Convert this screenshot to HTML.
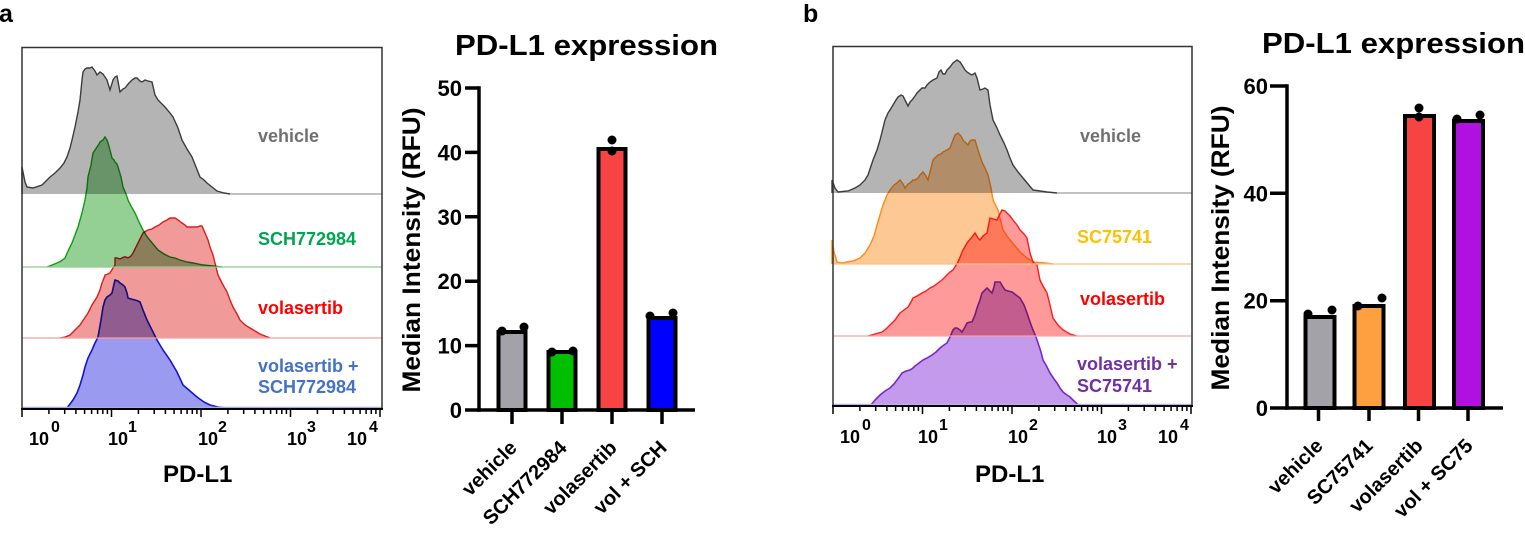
<!DOCTYPE html>
<html>
<head>
<meta charset="utf-8">
<style>
  html, body { margin: 0; padding: 0; background: #fff; }
  body { width: 1525px; height: 537px; overflow: hidden; }
  svg { display: block; font-family: "Liberation Sans", Arial, sans-serif; font-weight: bold; }
  .mb { mix-blend-mode: multiply; }
</style>
</head>
<body>
<svg width="1525" height="537" viewBox="0 0 1525 537" xmlns="http://www.w3.org/2000/svg">
  <rect x="0" y="0" width="1525" height="537" fill="#fff"/>

  <!-- Panel letters -->
  <text x="-1" y="22" font-size="25" fill="#000">a</text>
  <text x="803" y="22" font-size="25" fill="#000">b</text>

  <!-- ================= Panel a histogram ================= -->
  <g>
    <g style="isolation:isolate">
      <!-- gray vehicle -->
      <path class="mb" d="M22,194 L22,167 L25,182 L27,187 L33,188 L42,185 L50,177 L55,173 L60,168 L64,163 L67,157 L70,148 L72,140 L75,127 L78,112 L80,100 L82,80 L83,72 L85,69 L87,68 L90,68 L92,67 L95,71 L97,75 L100,72 L103,74 L107,80 L110,90 L113,80 L115,77 L117,76 L120,92 L123,89 L125,88 L129,83 L132,80 L135,78 L137,78 L140,81 L142,82 L145,80 L148,81 L152,82 L155,95 L158,100 L162,104 L165,107 L170,113 L173,117 L178,128 L182,140 L187,149 L192,157 L196,167 L200,177 L204,180 L207,183 L212,187 L217,191 L224,193 L230,194" fill="#b4b4b4" stroke="#3c3c3c" stroke-width="1.4"/>
      <!-- green SCH -->
      <path class="mb" d="M47,267 L52,265 L57,263 L61,261 L65,258 L68,251 L72,243 L75,235 L78,227 L82,213 L85,200 L87,188 L88,177 L91,165 L93,153 L95,150 L97,147 L99,144 L100,142 L103,140 L105,137 L107,140 L108,143 L110,150 L112,158 L114,160 L115,162 L117,164 L118,167 L121,177 L123,187 L126,194 L128,200 L131,206 L135,213 L139,222 L143,230 L146,235 L148,238 L153,244 L158,250 L164,254 L170,257 L175,258 L180,260 L187,262 L193,263 L203,265 L213,266 L222,267" fill="#94d094" stroke="#149a14" stroke-width="1.4"/>
      <!-- red volasertib -->
      <path class="mb" d="M60,338 L65,337 L70,335 L75,330 L80,325 L84,319 L88,313 L92,305 L97,297 L100,290 L102,283 L104,278 L105,275 L108,274 L110,273 L113,268 L115,265 L115,258 L117,258 L120,259 L122,258 L124,257 L126,257 L128,258 L131,256 L133,253 L135,249 L137,245 L140,239 L143,233 L146,231 L148,230 L152,229 L155,227 L159,225 L163,222 L167,220 L170,218 L173,218 L175,218 L178,220 L182,223 L185,225 L187,227 L192,227 L197,227 L200,226 L202,226 L205,233 L208,240 L210,247 L213,255 L215,263 L218,275 L222,283 L227,292 L230,300 L233,307 L237,314 L240,320 L245,325 L250,328 L255,331 L260,334 L265,336 L270,338" fill="#f09a9a" stroke="#e21a1a" stroke-width="1.4"/>
      <!-- blue vol + SCH -->
      <path class="mb" d="M67,408 L70,404 L73,400 L77,393 L80,385 L83,375 L85,367 L88,358 L92,350 L95,343 L98,337 L101,320 L103,307 L105,300 L107,297 L110,295 L112,293 L114,284 L115,280 L118,281 L120,283 L123,285 L125,287 L127,293 L128,298 L131,299 L135,300 L138,301 L140,302 L143,310 L147,320 L152,330 L157,340 L163,350 L170,360 L177,372 L183,385 L190,391 L197,397 L204,402 L210,405 L218,407 L227,408" fill="#9a9af0" stroke="#1515d0" stroke-width="1.6"/>
    </g>
    <!-- baselines -->
    <line x1="230" y1="194" x2="382" y2="194" stroke="#9a9a9a" stroke-width="1.2"/>
    <line x1="22" y1="267" x2="382" y2="267" stroke="#8fcc8f" stroke-width="1.2"/>
    <line x1="22" y1="338" x2="382" y2="338" stroke="#f2a0a0" stroke-width="1.2"/>
    <line x1="22" y1="407.5" x2="382" y2="407.5" stroke="#a8a8f2" stroke-width="1.5"/>
    <!-- frame -->
    <path d="M22,409 L22,47.5 L382,47.5 L382,409" fill="none" stroke="#333" stroke-width="1.5"/>
    <line x1="21" y1="409" x2="383" y2="409" stroke="#000" stroke-width="2"/>
    <!-- ticks -->
    <g id="ticksA" stroke="#000" stroke-width="1.5">
      <path d="M22,409 v8 M111.5,409 v8 M201,409 v8 M290.5,409 v8 M380,409 v8"/>
      <path d="M48.9,409 v5 M64.7,409 v5 M75.9,409 v5 M84.6,409 v5 M91.6,409 v5 M97.6,409 v5 M102.8,409 v5 M107.4,409 v5
               M138.4,409 v5 M154.2,409 v5 M165.4,409 v5 M174.1,409 v5 M181.1,409 v5 M187.1,409 v5 M192.3,409 v5 M196.9,409 v5
               M227.9,409 v5 M243.7,409 v5 M254.9,409 v5 M263.6,409 v5 M270.6,409 v5 M276.6,409 v5 M281.8,409 v5 M286.4,409 v5
               M317.4,409 v5 M333.2,409 v5 M344.4,409 v5 M353.1,409 v5 M360.1,409 v5 M366.1,409 v5 M371.3,409 v5 M375.9,409 v5"/>
    </g>
    <!-- tick labels -->
    <g font-size="18" fill="#000">
      <text x="29" y="445">10</text><text x="51" y="432" font-size="16">0</text>
      <text x="108" y="445">10</text><text x="128" y="432" font-size="16">1</text>
      <text x="198" y="445">10</text><text x="218" y="432" font-size="16">2</text>
      <text x="287" y="445">10</text><text x="307" y="432" font-size="16">3</text>
      <text x="347" y="445">10</text><text x="369" y="432" font-size="16">4</text>
    </g>
    <text x="163" y="482" font-size="24" fill="#000">PD-L1</text>
    <!-- legend labels -->
    <g font-size="18">
      <text x="258" y="142" fill="#707070">vehicle</text>
      <text x="258" y="245" fill="#00a550">SCH772984</text>
      <text x="258" y="314" fill="#ff0000">volasertib</text>
      <text x="258" y="372" fill="#4472c4">volasertib +</text>
      <text x="258" y="393" fill="#4472c4">SCH772984</text>
    </g>
  </g>

  <!-- ================= Panel a bar chart ================= -->
  <g>
    <text x="455" y="55" font-size="29" textLength="263" lengthAdjust="spacingAndGlyphs" fill="#000">PD-L1 expression</text>
    <text transform="translate(420,250) rotate(-90)" text-anchor="middle" font-size="25" textLength="285" lengthAdjust="spacingAndGlyphs" fill="#000">Median Intensity (RFU)</text>
    <!-- bars -->
    <rect x="498.5" y="332" width="27" height="78" fill="#a3a2a8" stroke="#000" stroke-width="4"/>
    <rect x="548.5" y="352" width="27" height="58" fill="#00bf00" stroke="#000" stroke-width="4"/>
    <rect x="598.5" y="149" width="27" height="261" fill="#f84343" stroke="#000" stroke-width="4"/>
    <rect x="648.5" y="318" width="27" height="92" fill="#0000ff" stroke="#000" stroke-width="4"/>
    <!-- dots -->
    <g fill="#000">
      <circle cx="502" cy="331" r="4.5"/><circle cx="524" cy="327" r="4.5"/>
      <circle cx="552" cy="352" r="4.5"/><circle cx="573" cy="351" r="4.5"/>
      <circle cx="612" cy="140" r="4.5"/><circle cx="612" cy="151" r="4.5"/>
      <circle cx="650" cy="316" r="4.5"/><circle cx="673" cy="313" r="4.5"/>
    </g>
    <!-- axes -->
    <g stroke="#000" stroke-width="3.5" fill="none">
      <path d="M479,86.25 L479,411.75"/>
      <path d="M477.25,410 L695,410"/>
      <path d="M465,88 H479 M465,152.4 H479 M465,216.8 H479 M465,281.2 H479 M465,345.6 H479 M465,410 H479"/>
      <path d="M512,410 V424 M562,410 V424 M612,410 V424 M662,410 V424"/>
    </g>
    <g font-size="22" text-anchor="end" fill="#000">
      <text x="462" y="96">50</text>
      <text x="462" y="160.4">40</text>
      <text x="462" y="224.8">30</text>
      <text x="462" y="289.2">20</text>
      <text x="462" y="353.6">10</text>
      <text x="462" y="418">0</text>
    </g>
    <g font-size="20" text-anchor="end" fill="#000">
      <text transform="translate(518,449) rotate(-45)">vehicle</text>
      <text transform="translate(568,449) rotate(-45)">SCH772984</text>
      <text transform="translate(618,449) rotate(-45)">volasertib</text>
      <text transform="translate(668,449) rotate(-45)">vol + SCH</text>
    </g>
  </g>

  <!-- ================= Panel b histogram ================= -->
  <g>
    <g style="isolation:isolate">
      <!-- gray vehicle -->
      <path class="mb" d="M832,193 L832,180 L835,188 L838,192 L848,191 L855,188 L860,185 L865,180 L868,175 L871,166 L873,160 L877,150 L880,140 L883,128 L885,120 L888,113 L890,110 L893,105 L896,100 L898,97 L901,95 L903,96 L906,102 L908,106 L910,102 L912,100 L915,96 L917,93 L920,90 L922,88 L925,88 L927,85 L930,82 L933,80 L935,79 L937,78 L939,72 L941,70 L943,74 L945,74 L947,70 L950,67 L953,63 L957,60 L960,62 L962,65 L965,70 L967,72 L970,74 L972,75 L975,73 L977,78 L980,90 L983,89 L985,88 L988,90 L990,105 L993,120 L997,128 L1000,135 L1004,143 L1007,150 L1010,158 L1013,165 L1018,172 L1023,178 L1028,184 L1033,190 L1040,191 L1047,192 L1057,193" fill="#b4b4b4" stroke="#3c3c3c" stroke-width="1.4"/>
      <!-- orange SC75741 -->
      <path class="mb" d="M832,264 L832,240 L834,252 L837,262 L842,263 L847,262 L853,261 L860,258 L865,253 L870,245 L874,236 L877,225 L880,215 L883,205 L887,195 L890,190 L894,185 L897,183 L900,180 L903,184 L905,188 L908,184 L910,183 L913,180 L915,180 L918,178 L920,175 L923,172 L926,176 L928,180 L931,168 L933,160 L936,157 L938,155 L941,154 L943,152 L947,150 L950,148 L953,140 L955,135 L958,133 L961,136 L963,140 L966,143 L968,145 L970,141 L972,140 L975,140 L978,150 L982,162 L985,168 L988,175 L991,188 L993,200 L996,206 L998,210 L1001,222 L1003,230 L1007,236 L1010,240 L1015,246 L1020,252 L1027,258 L1033,262 L1045,263 L1053,264" fill="#fdc894" stroke="#ff8c1a" stroke-width="1.4"/>
      <!-- red volasertib -->
      <path class="mb" d="M868,336 L875,334 L882,332 L886,329 L890,325 L895,320 L900,313 L904,310 L908,307 L911,302 L913,298 L917,296 L922,293 L926,291 L930,288 L934,286 L938,283 L942,280 L947,275 L950,272 L953,270 L958,262 L963,250 L967,243 L972,237 L975,233 L978,238 L980,240 L983,236 L987,233 L990,218 L993,219 L997,220 L1000,214 L1002,210 L1005,211 L1007,213 L1010,216 L1013,220 L1017,225 L1020,230 L1024,234 L1027,238 L1030,253 L1033,262 L1037,265 L1040,280 L1043,286 L1047,293 L1050,305 L1053,318 L1058,325 L1063,330 L1070,334 L1077,336" fill="#ff9a9a" stroke="#ff1a1a" stroke-width="1.4"/>
      <!-- purple vol + SC75741 -->
      <path class="mb" d="M870,406 L875,400 L880,395 L885,391 L890,388 L894,384 L897,380 L900,376 L902,373 L906,371 L910,370 L913,368 L915,366 L919,363 L923,360 L927,358 L932,355 L936,352 L940,348 L944,345 L947,343 L950,337 L953,330 L955,328 L957,328 L960,330 L962,332 L965,327 L967,323 L970,322 L972,322 L975,315 L977,308 L980,300 L982,293 L985,290 L987,288 L990,291 L992,293 L994,287 L995,282 L998,282 L1000,282 L1003,287 L1005,290 L1008,291 L1012,292 L1016,295 L1020,298 L1024,305 L1027,313 L1030,322 L1033,330 L1036,337 L1038,343 L1041,352 L1043,360 L1047,367 L1050,373 L1054,379 L1057,383 L1060,388 L1063,392 L1067,395 L1070,397 L1075,402 L1080,406" fill="#c39aec" stroke="#7a28c8" stroke-width="1.6"/>
    </g>
    <line x1="1057" y1="193" x2="1192" y2="193" stroke="#9a9a9a" stroke-width="1.2"/>
    <line x1="833" y1="264" x2="1192" y2="264" stroke="#fdc080" stroke-width="1.2"/>
    <line x1="833" y1="336" x2="1192" y2="336" stroke="#ffa0a0" stroke-width="1.2"/>
    <line x1="833" y1="404.5" x2="1192" y2="404.5" stroke="#c8a8f2" stroke-width="1.5"/>
    <path d="M833,406 L833,46.5 L1192,46.5 L1192,406" fill="none" stroke="#333" stroke-width="1.5"/>
    <line x1="832" y1="406" x2="1193" y2="406" stroke="#000" stroke-width="2"/>
    <use href="#ticksA" transform="translate(811,-3)"/>
    <g font-size="18" fill="#000">
      <text x="840" y="443">10</text><text x="862" y="430" font-size="16">0</text>
      <text x="918" y="443">10</text><text x="939" y="430" font-size="16">1</text>
      <text x="1008" y="443">10</text><text x="1029" y="430" font-size="16">2</text>
      <text x="1097" y="443">10</text><text x="1118" y="430" font-size="16">3</text>
      <text x="1158" y="443">10</text><text x="1180" y="430" font-size="16">4</text>
    </g>
    <text x="975" y="482" font-size="24" fill="#000">PD-L1</text>
    <g font-size="18">
      <text x="1080" y="142" fill="#707070">vehicle</text>
      <text x="1077" y="243" fill="#ffc000">SC75741</text>
      <text x="1080" y="305" fill="#ff0000">volasertib</text>
      <text x="1077" y="370" fill="#7030a0">volasertib +</text>
      <text x="1077" y="392" fill="#7030a0">SC75741</text>
    </g>
  </g>

  <!-- ================= Panel b bar chart ================= -->
  <g>
    <text x="1262" y="53" font-size="29" textLength="263" lengthAdjust="spacingAndGlyphs" fill="#000">PD-L1 expression</text>
    <text transform="translate(1229,248) rotate(-90)" text-anchor="middle" font-size="25" textLength="285" lengthAdjust="spacingAndGlyphs" fill="#000">Median Intensity (RFU)</text>
    <rect x="1305.5" y="317" width="29" height="91" fill="#a3a2a8" stroke="#000" stroke-width="4"/>
    <rect x="1354.5" y="306" width="29" height="102" fill="#ffa040" stroke="#000" stroke-width="4"/>
    <rect x="1405" y="116" width="29" height="292" fill="#f84343" stroke="#000" stroke-width="4"/>
    <rect x="1454" y="121" width="29" height="287" fill="#b010e0" stroke="#000" stroke-width="4"/>
    <g fill="#000">
      <circle cx="1308" cy="314" r="4.5"/><circle cx="1332" cy="310" r="4.5"/>
      <circle cx="1358" cy="306" r="4.5"/><circle cx="1382" cy="298" r="4.5"/>
      <circle cx="1419" cy="108" r="4.5"/><circle cx="1419" cy="117" r="4.5"/>
      <circle cx="1457" cy="119" r="4.5"/><circle cx="1480" cy="115" r="4.5"/>
    </g>
    <g stroke="#000" stroke-width="3.5" fill="none">
      <path d="M1287,84.25 L1287,409.75"/>
      <path d="M1285.25,408 L1503,408"/>
      <path d="M1270,86 H1287 M1270,193.3 H1287 M1270,300.7 H1287 M1270,408 H1287"/>
      <path d="M1318.5,408 V421 M1369,408 V421 M1418.5,408 V421 M1468,408 V421"/>
    </g>
    <g font-size="22" text-anchor="end" fill="#000">
      <text x="1268" y="94">60</text>
      <text x="1268" y="201.3">40</text>
      <text x="1268" y="308.7">20</text>
      <text x="1268" y="416">0</text>
    </g>
    <g font-size="20" text-anchor="end" fill="#000">
      <text transform="translate(1324,447) rotate(-45)">vehicle</text>
      <text transform="translate(1374,447) rotate(-45)">SC75741</text>
      <text transform="translate(1424,447) rotate(-45)">volasertib</text>
      <text transform="translate(1474,447) rotate(-45)">vol + SC75</text>
    </g>
  </g>
</svg>
</body>
</html>
